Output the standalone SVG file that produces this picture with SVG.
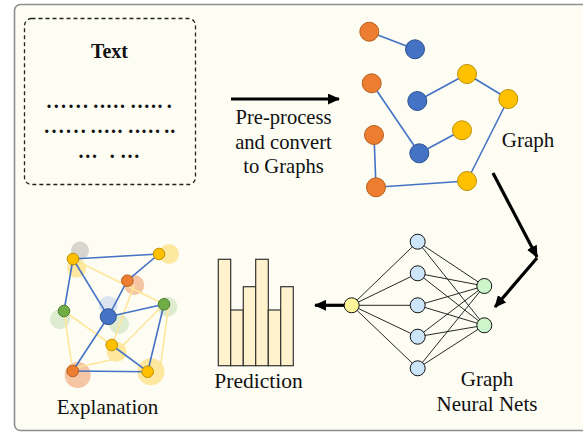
<svg xmlns="http://www.w3.org/2000/svg" width="583" height="432" viewBox="0 0 583 432">
<style>
text{font-family:"Liberation Serif","Times New Roman",serif;fill:#111;}
.lbl{font-size:21px;text-anchor:middle;}
.cv{font-size:20.6px;text-anchor:middle;}
.dots{font-size:20px;font-weight:bold;letter-spacing:1.7px;}
.g1{letter-spacing:2.3px;}
.ge{stroke:#4472c4;stroke-width:1.6;fill:none;}
.le{stroke:#ffe699;stroke-width:1.6;fill:none;}
.or{fill:#ed7d31;stroke:#b4601f;stroke-width:1;}
.bl{fill:#4472c4;stroke:#2f528f;stroke-width:1;}
.ye{fill:#ffc000;stroke:#bf9000;stroke-width:1;}
.gr{fill:#70ad47;stroke:#507e32;stroke-width:1;}
.nn{stroke:#111;stroke-width:0.9;fill:none;}
.nb{fill:#cce5f8;stroke:#111;stroke-width:1;}
.ng{fill:#ccf5cc;stroke:#111;stroke-width:1;}
.ny{fill:#fff59a;stroke:#111;stroke-width:1;}
.bar{fill:#fff2cc;stroke:#333;stroke-width:1.2;}
.arr{stroke:#000;stroke-width:3.2;fill:none;}
</style>
<defs>
<marker id="ah" markerUnits="userSpaceOnUse" markerWidth="12" markerHeight="11" refX="11" refY="5.5" orient="auto">
<path d="M0,0 L12,5.5 L0,11 z" fill="#000"/>
</marker>
</defs>
<rect x="14.5" y="4.5" width="600" height="426" rx="6" fill="#fdfdf4" stroke="#8f8f8f" stroke-width="1.6"/>

<g id="text-node">
<rect x="24.5" y="18.5" width="171" height="166" rx="7" fill="none" stroke="#222" stroke-width="1.3" stroke-dasharray="4,3"/>
<text x="109.5" y="58" class="lbl" style="font-weight:bold;font-size:20px">Text</text>
<text class="dots" y="107.5"><tspan class="g1" x="46.5">......</tspan><tspan x="93.2">.....</tspan><tspan x="130.8">.....</tspan><tspan x="166.8">.</tspan></text>
<text class="dots" y="132.8"><tspan class="g1" x="44.2">......</tspan><tspan x="90.8">.....</tspan><tspan x="128.2">.....</tspan><tspan x="164.2" style="letter-spacing:1px">..</tspan></text>
<text class="dots" y="158.3"><tspan x="78.5">...</tspan><tspan x="109.8">.</tspan><tspan x="120.8">...</tspan></text>
</g>

<g id="connectors">
<line class="arr" x1="231" y1="99" x2="339" y2="99" marker-end="url(#ah)"/>
<line class="arr" x1="493" y1="173" x2="537" y2="257" marker-end="url(#ah)"/>
<line class="arr" x1="537" y1="258" x2="495" y2="307" marker-end="url(#ah)"/>
<line class="arr" x1="346" y1="305.3" x2="315" y2="305.3" marker-end="url(#ah)"/>
</g>

<g id="convert-label">
<text class="cv" x="283.5" y="124">Pre-process</text>
<text class="cv" x="283.5" y="148.5">and convert</text>
<text class="cv" x="283.5" y="173">to Graphs</text>
</g>

<g id="graph">
<line class="ge" x1="369.3" y1="31.7" x2="415" y2="49.3"/>
<line class="ge" x1="371.7" y1="83.3" x2="419.3" y2="153.3"/>
<line class="ge" x1="419.3" y1="153.3" x2="462" y2="130.3"/>
<line class="ge" x1="417.3" y1="101" x2="467" y2="74"/>
<line class="ge" x1="467" y1="74" x2="508.3" y2="99"/>
<line class="ge" x1="508.3" y1="99" x2="467" y2="181"/>
<line class="ge" x1="467" y1="181" x2="376" y2="187.3"/>
<line class="ge" x1="376" y1="187.3" x2="374" y2="135"/>
<circle class="or" cx="369.3" cy="31.7" r="9.5"/>
<circle class="bl" cx="415" cy="49.3" r="9.5"/>
<circle class="or" cx="371.7" cy="83.3" r="9.5"/>
<circle class="bl" cx="417.3" cy="101" r="9.5"/>
<circle class="ye" cx="467" cy="74" r="9.5"/>
<circle class="ye" cx="508.3" cy="99" r="9.5"/>
<circle class="or" cx="374" cy="135" r="9.5"/>
<circle class="bl" cx="419.3" cy="153.3" r="9.5"/>
<circle class="ye" cx="462" cy="130.3" r="9.5"/>
<circle class="or" cx="376" cy="187.3" r="9.5"/>
<circle class="ye" cx="467" cy="181" r="9.5"/>
<text class="lbl" x="528" y="146.7">Graph</text>
</g>

<g id="gnn">
<g class="nn">
<line x1="351.7" y1="305.3" x2="417.7" y2="241.7"/>
<line x1="351.7" y1="305.3" x2="417.7" y2="273.3"/>
<line x1="351.7" y1="305.3" x2="417.7" y2="305.3"/>
<line x1="351.7" y1="305.3" x2="417.7" y2="336.7"/>
<line x1="351.7" y1="305.3" x2="417.7" y2="368.3"/>
<line x1="417.7" y1="241.7" x2="484.3" y2="286"/>
<line x1="417.7" y1="241.7" x2="484.3" y2="325.3"/>
<line x1="417.7" y1="273.3" x2="484.3" y2="286"/>
<line x1="417.7" y1="273.3" x2="484.3" y2="325.3"/>
<line x1="417.7" y1="305.3" x2="484.3" y2="286"/>
<line x1="417.7" y1="305.3" x2="484.3" y2="325.3"/>
<line x1="417.7" y1="336.7" x2="484.3" y2="286"/>
<line x1="417.7" y1="336.7" x2="484.3" y2="325.3"/>
<line x1="417.7" y1="368.3" x2="484.3" y2="286"/>
<line x1="417.7" y1="368.3" x2="484.3" y2="325.3"/>
</g>
<circle class="ny" cx="351.7" cy="305.3" r="7.5"/>
<circle class="nb" cx="417.7" cy="241.7" r="7.5"/>
<circle class="nb" cx="417.7" cy="273.3" r="7.5"/>
<circle class="nb" cx="417.7" cy="305.3" r="7.5"/>
<circle class="nb" cx="417.7" cy="336.7" r="7.5"/>
<circle class="nb" cx="417.7" cy="368.3" r="7.5"/>
<circle class="ng" cx="484.3" cy="286" r="7.5"/>
<circle class="ng" cx="484.3" cy="325.3" r="7.5"/>
<text class="lbl" x="487" y="386">Graph</text>
<text class="lbl" x="487" y="411">Neural Nets</text>
</g>

<g id="prediction">
<rect class="bar" x="218.3" y="259.3" width="12.4" height="106.4"/>
<rect class="bar" x="230.7" y="310" width="12.6" height="55.7"/>
<rect class="bar" x="243.3" y="286.7" width="12.4" height="79"/>
<rect class="bar" x="255.7" y="259.3" width="12.6" height="106.4"/>
<rect class="bar" x="268.3" y="310" width="12.4" height="55.7"/>
<rect class="bar" x="280.7" y="286.7" width="12.6" height="79"/>
<text class="lbl" x="258.5" y="387.7" style="font-size:21.5px">Prediction</text>
</g>

<g id="explanation">
<g opacity="0.6">
<circle cx="80" cy="250.5" r="9" fill="#bdbdb8"/>
<circle cx="76.7" cy="268.3" r="9.5" fill="#ffd966"/>
<circle cx="169" cy="254" r="10" fill="#ffd966"/>
<circle cx="134.3" cy="285" r="10" fill="#f0a070"/>
<circle cx="108.3" cy="305.5" r="9.5" fill="#c5d4ec"/>
<circle cx="119" cy="324" r="10" fill="#c9e0b8"/>
<circle cx="60" cy="319.3" r="10" fill="#c9e0b8"/>
<circle cx="167.3" cy="306.7" r="10" fill="#c9e0b8"/>
<circle cx="116.7" cy="351.7" r="10" fill="#ffd966"/>
<circle cx="77.7" cy="375" r="13" fill="#f0a070"/>
<circle cx="151" cy="371.7" r="13.5" fill="#ffd966"/>
</g>
<line class="le" x1="73" y1="259" x2="164" y2="304.3"/>
<line class="le" x1="134.3" y1="285" x2="112" y2="345"/>
<line class="le" x1="64" y1="311" x2="111.7" y2="345"/>
<line class="le" x1="64" y1="311" x2="72.7" y2="371"/>
<line class="le" x1="72.7" y1="368.5" x2="124" y2="357"/>
<line class="le" x1="164" y1="304.3" x2="116.7" y2="351.7"/>
<line class="le" x1="168.5" y1="306.7" x2="160.5" y2="366"/>
<line class="ge" x1="73" y1="259" x2="159" y2="254"/>
<line class="ge" x1="73" y1="259" x2="64" y2="311"/>
<line class="ge" x1="73" y1="259" x2="108.3" y2="316.7"/>
<line class="ge" x1="159" y1="254" x2="127.3" y2="280.7"/>
<line class="ge" x1="127.3" y1="280.7" x2="108.3" y2="316.7"/>
<line class="ge" x1="108.3" y1="316.7" x2="164" y2="304.3"/>
<line class="ge" x1="108.3" y1="316.7" x2="72.7" y2="371"/>
<line class="ge" x1="111.7" y1="345" x2="147.7" y2="371.7"/>
<line class="ge" x1="72.7" y1="371" x2="147.7" y2="371.7"/>
<line class="ge" x1="164" y1="304.3" x2="147.7" y2="371.7"/>
<circle class="ye" cx="73" cy="259" r="5.8"/>
<circle class="ye" cx="159" cy="254" r="5.8"/>
<circle class="or" cx="127.3" cy="280.7" r="5.8"/>
<circle class="gr" cx="64" cy="311" r="5.8"/>
<circle class="bl" cx="108.3" cy="316.7" r="8"/>
<circle class="gr" cx="164" cy="304.3" r="5.8"/>
<circle class="ye" cx="111.7" cy="345" r="5.8"/>
<circle class="or" cx="72.7" cy="371" r="5.8"/>
<circle class="ye" cx="147.7" cy="371.7" r="5.8"/>
<text class="lbl" x="107.5" y="414">Explanation</text>
</g>
</svg>
